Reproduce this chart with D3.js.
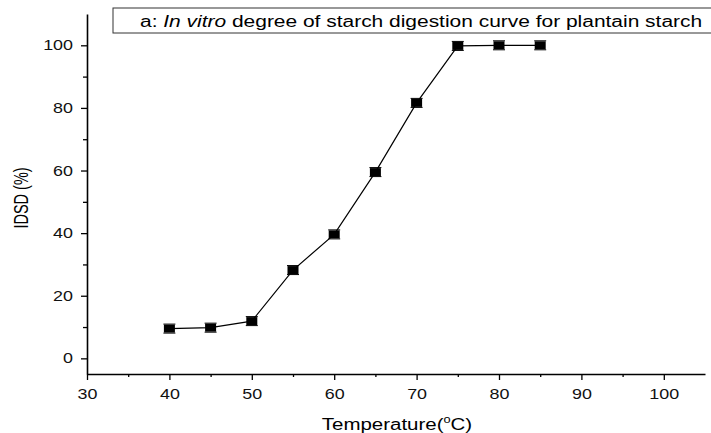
<!DOCTYPE html>
<html>
    <head>
        <style>
            body { margin: 0; background: #fff; }
            svg { font-family: "Liberation Sans", Arial, sans-serif; }
        </style>
    </head>
    <body>
        <div id="chart"></div>
        <script src="https://cdnjs.cloudflare.com/ajax/libs/d3/7.8.5/d3.min.js"></script>
    <script>
        var temperature = [40, 45, 50, 55, 60, 65, 70, 75, 80, 85];
        var idsd = [9.5, 9.8, 11.9, 28.2, 39.6, 59.5, 81.6, 99.8, 100, 100];
        var xTicks = [30, 40, 50, 60, 70, 80, 90, 100];
        var yTicks = [0, 20, 40, 60, 80, 100];

        (function() {
            var width = 711,
                height = 433,
                sx = 1.28; // the original picture is stretched sideways

            var svg = d3.select("#chart")
                .append("svg")
                .attr("width", width)
                .attr("height", height);

            var x = d3.scaleLinear().domain([30, 105]).range([87, 705]);
            var y = d3.scaleLinear().domain([-5, 110]).range([374, 14]);

            // minor ticks
            var xMinor = d3.range(35, 105, 10);
            var yMinor = d3.range(10, 110, 20);

            svg.append("g")
                .attr("transform", "translate(0,374)")
                .call(d3.axisBottom(x).tickValues(xMinor).tickSize(3).tickFormat(""))
                .call(function(g) { g.select(".domain").remove(); });
            svg.append("g")
                .attr("transform", "translate(87,0)")
                .call(d3.axisLeft(y).tickValues(yMinor).tickSize(4).tickFormat(""))
                .call(function(g) { g.select(".domain").remove(); });

            var xAxis = svg.append("g")
                .attr("transform", "translate(0,374)")
                .call(d3.axisBottom(x).tickValues(xTicks).tickSize(6).tickSizeOuter(0).tickPadding(9));
            var yAxis = svg.append("g")
                .attr("transform", "translate(87,0)")
                .call(d3.axisLeft(y).tickValues(yTicks).tickSize(6).tickSizeOuter(0).tickPadding(0));

            svg.selectAll(".tick line").attr("stroke-width", 1.3);
            svg.selectAll(".domain").attr("stroke-width", 1.6);
            svg.selectAll(".tick text").attr("font-size", 14).attr("fill", "#111")
                .attr("font-family", "Liberation Sans, Arial, sans-serif");
            xAxis.selectAll(".tick text").attr("transform", "scale(" + sx + ",1)");
            yAxis.selectAll(".tick text")
                .attr("x", -14 / sx)
                .attr("transform", "scale(" + sx + ",1)");

            // title box
            svg.append("rect")
                .attr("x", 113).attr("y", 8)
                .attr("width", 610).attr("height", 25)
                .attr("fill", "#fff").attr("stroke", "#333").attr("stroke-width", 1);
            var t = svg.append("text")
                .attr("transform", "translate(140,27) scale(1.31,1)")
                .attr("font-size", 16).attr("fill", "#000");
            t.append("tspan").text("a: ");
            t.append("tspan").attr("font-style", "italic").text("In vitro");
            t.append("tspan").text(" degree of starch digestion curve for plantain starch");

            // line
            var data = temperature.map(function(d, i) { return {t: d, v: idsd[i]}; });
            svg.append("path")
                .datum(data)
                .attr("fill", "none")
                .attr("stroke", "#000")
                .attr("stroke-width", 1.2)
                .attr("d", d3.line()
                    .x(function(d) { return x(d.t); })
                    .y(function(d) { return y(d.v); }));

            // error caps
            svg.selectAll(".err")
                .data(data)
                .enter().append("path")
                .attr("stroke", "#000")
                .attr("stroke-width", 1)
                .attr("d", function(d) {
                    var cx = x(d.t), cy = y(d.v);
                    return "M" + (cx - 6) + "," + (cy - 4.5) + "h12M" + (cx - 6) + "," + (cy + 4.5) + "h12";
                });

            svg.selectAll(".pt")
                .data(data)
                .enter().append("rect")
                .attr("x", function(d) { return x(d.t) - 5.5; })
                .attr("y", function(d) { return y(d.v) - 4; })
                .attr("width", 11)
                .attr("height", 8)
                .attr("fill", "#000");

            svg.append("text")
                .attr("transform", "translate(28,198) rotate(-90) scale(1,1.35)")
                .attr("text-anchor", "middle")
                .attr("font-size", 14.5)
                .text("IDSD (%)");

            var xl = svg.append("text")
                .attr("transform", "translate(397,430) scale(" + sx + ",1)")
                .attr("text-anchor", "middle")
                .attr("font-size", 16);
            xl.append("tspan").text("Temperature(");
            xl.append("tspan").attr("font-size", 10).attr("dy", -7).text("o");
            xl.append("tspan").attr("dy", 7).text("C)");
        })();
    </script>
    </body>
</html>
